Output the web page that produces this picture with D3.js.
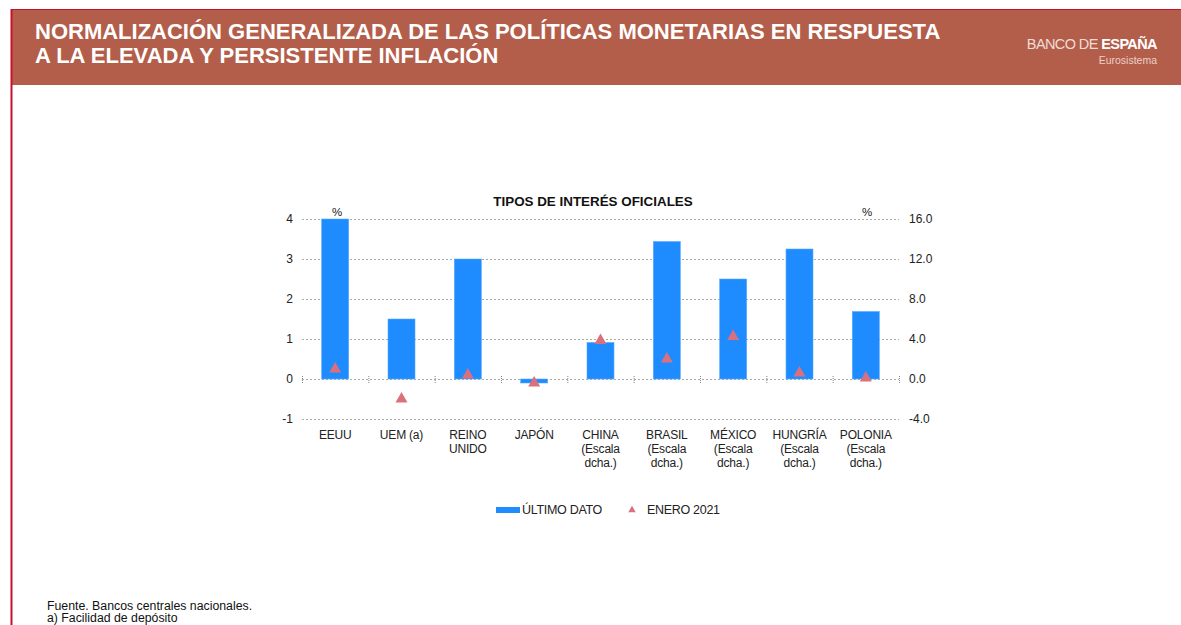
<!DOCTYPE html>
<html>
<head>
<meta charset="utf-8">
<title>Tipos de interés oficiales</title>
<style>
  body { margin: 0; background: #fff; }
  svg { display: block; font-family: "Liberation Sans", Arial, Helvetica, sans-serif; }
</style>
</head>
<body>
<script src="https://d3js.org/d3.v7.min.js"></script>
<script>
// categories (label lines) and values
const categories = ["EEUU", "UEM (a)", "REINO UNIDO", "JAPÓN", "CHINA", "BRASIL", "MÉXICO", "HUNGRÍA", "POLONIA"];
const labelLines = [
  ["EEUU"], ["UEM (a)"], ["REINO", "UNIDO"], ["JAPÓN"],
  ["CHINA", "(Escala", "dcha.)"], ["BRASIL", "(Escala", "dcha.)"],
  ["MÉXICO", "(Escala", "dcha.)"], ["HUNGRÍA", "(Escala", "dcha.)"],
  ["POLONIA", "(Escala", "dcha.)"]
];
// which axis each category uses
const axisSide = ["left", "left", "left", "left", "right", "right", "right", "right", "right"];
const ultimoDato = [4.0, 1.5, 3.0, -0.1, 3.65, 13.75, 10.0, 13.0, 6.75];
const enero2021 = [0.25, -0.5, 0.1, -0.1, 3.85, 2.0, 4.25, 0.6, 0.1];
const leftTicks = [-1, 0, 1, 2, 3, 4];
const rightTicks = [-4, 0, 4, 8, 12, 16];

const width = 1181, height = 625;
const svg = d3.select("body").append("svg")
  .attr("width", width).attr("height", height);

// header band
svg.append("rect").attr("x", 11).attr("y", 9).attr("width", width - 11).attr("height", 76)
  .attr("fill", "#b35e4a");
svg.append("line").attr("x1", 11).attr("x2", width).attr("y1", 9.5).attr("y2", 9.5)
  .attr("stroke", "#c8102e").attr("stroke-width", 1);
svg.append("line").attr("x1", 11.5).attr("x2", 11.5).attr("y1", 9).attr("y2", height)
  .attr("stroke", "#c8102e").attr("stroke-width", 2);

const head = svg.append("text").attr("fill", "#fff").attr("font-weight", "bold")
  .attr("font-size", 22);
head.append("tspan").attr("x", 35).attr("y", 39).text("NORMALIZACIÓN GENERALIZADA DE LAS POLÍTICAS MONETARIAS EN RESPUESTA");
head.append("tspan").attr("x", 35).attr("y", 63).text("A LA ELEVADA Y PERSISTENTE INFLACIÓN");

const logo = svg.append("text").attr("x", 1157).attr("y", 49).attr("text-anchor", "end")
  .attr("fill", "#fff").attr("font-size", 14.5).attr("letter-spacing", -0.6);
logo.append("tspan").attr("fill", "#f1dcd5").text("BANCO DE ");
logo.append("tspan").attr("font-weight", "bold").text("ESPAÑA");
svg.append("text").attr("x", 1157).attr("y", 64).attr("text-anchor", "end")
  .attr("fill", "#ecd0c7").attr("font-size", 10.5).text("Eurosistema");

// chart area
const plot = { left: 302, right: 899 };
const x = d3.scaleBand().domain(categories).range([plot.left, plot.right]);
const yL = d3.scaleLinear().domain([-1, 4]).range([419, 219]);
const yR = d3.scaleLinear().domain([-4, 16]).range([419, 219]);
const yOf = i => axisSide[i] === "left" ? yL : yR;

svg.append("text").attr("x", 593).attr("y", 206).attr("text-anchor", "middle")
  .attr("font-weight", "bold").attr("font-size", 13.4).attr("fill", "#111")
  .text("TIPOS DE INTERÉS OFICIALES");

// grid lines
svg.append("g").selectAll("line").data(leftTicks).join("line")
  .attr("x1", plot.left).attr("x2", plot.right)
  .attr("y1", d => yL(d) + 0.5).attr("y2", d => yL(d) + 0.5)
  .attr("stroke", "#aaa").attr("stroke-dasharray", "2,2").attr("stroke-width", 1);

// axes (hyphen minus like the original)
const hy = f => d => f(d).replace("\u2212", "-");
const axisL = svg.append("g").attr("transform", `translate(${plot.left},0)`)
  .call(d3.axisLeft(yL).tickValues(leftTicks).tickSize(0).tickPadding(9).tickFormat(hy(d3.format("d"))));
const axisR = svg.append("g").attr("transform", `translate(${plot.right},0)`)
  .call(d3.axisRight(yR).tickValues(rightTicks).tickSize(0).tickPadding(10).tickFormat(hy(d3.format(".1f"))));
[axisL, axisR].forEach(a => {
  a.select(".domain").remove();
  a.selectAll("text").attr("font-size", 12).attr("fill", "#222")
    .attr("font-family", "'Liberation Sans', Arial, sans-serif");
});

// small ticks on zero line at band edges
svg.append("g").selectAll("line").data(d3.range(categories.length + 1)).join("line")
  .attr("x1", i => plot.left + i * x.step() + 0.5).attr("x2", i => plot.left + i * x.step() + 0.5)
  .attr("y1", yL(0) - 3).attr("y2", yL(0) + 4)
  .attr("stroke", "#888").attr("stroke-dasharray", "1,1");

// bars
const bw = 27;
svg.append("g").selectAll("rect").data(ultimoDato).join("rect")
  .attr("x", (d, i) => x(categories[i]) + x.bandwidth() / 2 - bw / 2)
  .attr("y", (d, i) => Math.min(yOf(i)(d), yOf(i)(0)))
  .attr("width", bw)
  .attr("height", (d, i) => Math.abs(yOf(i)(d) - yOf(i)(0)))
  .attr("fill", "#1e8cff").attr("stroke", "#5aa9ff").attr("stroke-width", 0.6);

// triangles
const tri = d3.symbol().type(d3.symbolTriangle).size(62);
svg.append("g").selectAll("path").data(enero2021).join("path")
  .attr("d", tri)
  .attr("transform", (d, i) => `translate(${x(categories[i]) + x.bandwidth() / 2},${yOf(i)(d)})`)
  .attr("fill", "#d9707c");

// % labels
svg.append("text").attr("x", 337).attr("y", 216).attr("text-anchor", "middle")
  .attr("font-size", 11.5).attr("fill", "#222").text("%");
svg.append("text").attr("x", 867).attr("y", 216).attr("text-anchor", "middle")
  .attr("font-size", 11.5).attr("fill", "#222").text("%");

// category labels
svg.append("g").selectAll("text").data(labelLines).join("text")
  .attr("text-anchor", "middle").attr("font-size", 12).attr("fill", "#222")
  .attr("letter-spacing", -0.2)
  .each(function (lines, i) {
    const cx = x(categories[i]) + x.bandwidth() / 2;
    d3.select(this).selectAll("tspan").data(lines).join("tspan")
      .attr("x", cx).attr("y", (l, j) => 439 + j * 14).text(l => l);
  });

// legend
svg.append("rect").attr("x", 496).attr("y", 507).attr("width", 24).attr("height", 6).attr("fill", "#1e8cff");
svg.append("text").attr("x", 522).attr("y", 514).attr("font-size", 12.5).attr("fill", "#222")
  .attr("letter-spacing", -0.3).text("ÚLTIMO DATO");
svg.append("path").attr("d", d3.symbol().type(d3.symbolTriangle).size(24))
  .attr("transform", "translate(632,510)").attr("fill", "#d9707c");
svg.append("text").attr("x", 647).attr("y", 514).attr("font-size", 12.5).attr("fill", "#222")
  .attr("letter-spacing", -0.3).text("ENERO 2021");

// footnotes
svg.append("text").attr("x", 47).attr("y", 610).attr("font-size", 12.3).attr("fill", "#111")
  .text("Fuente. Bancos centrales nacionales.");
svg.append("text").attr("x", 47).attr("y", 622).attr("font-size", 12.3).attr("fill", "#111")
  .text("a) Facilidad de depósito");
</script>
</body>
</html>
